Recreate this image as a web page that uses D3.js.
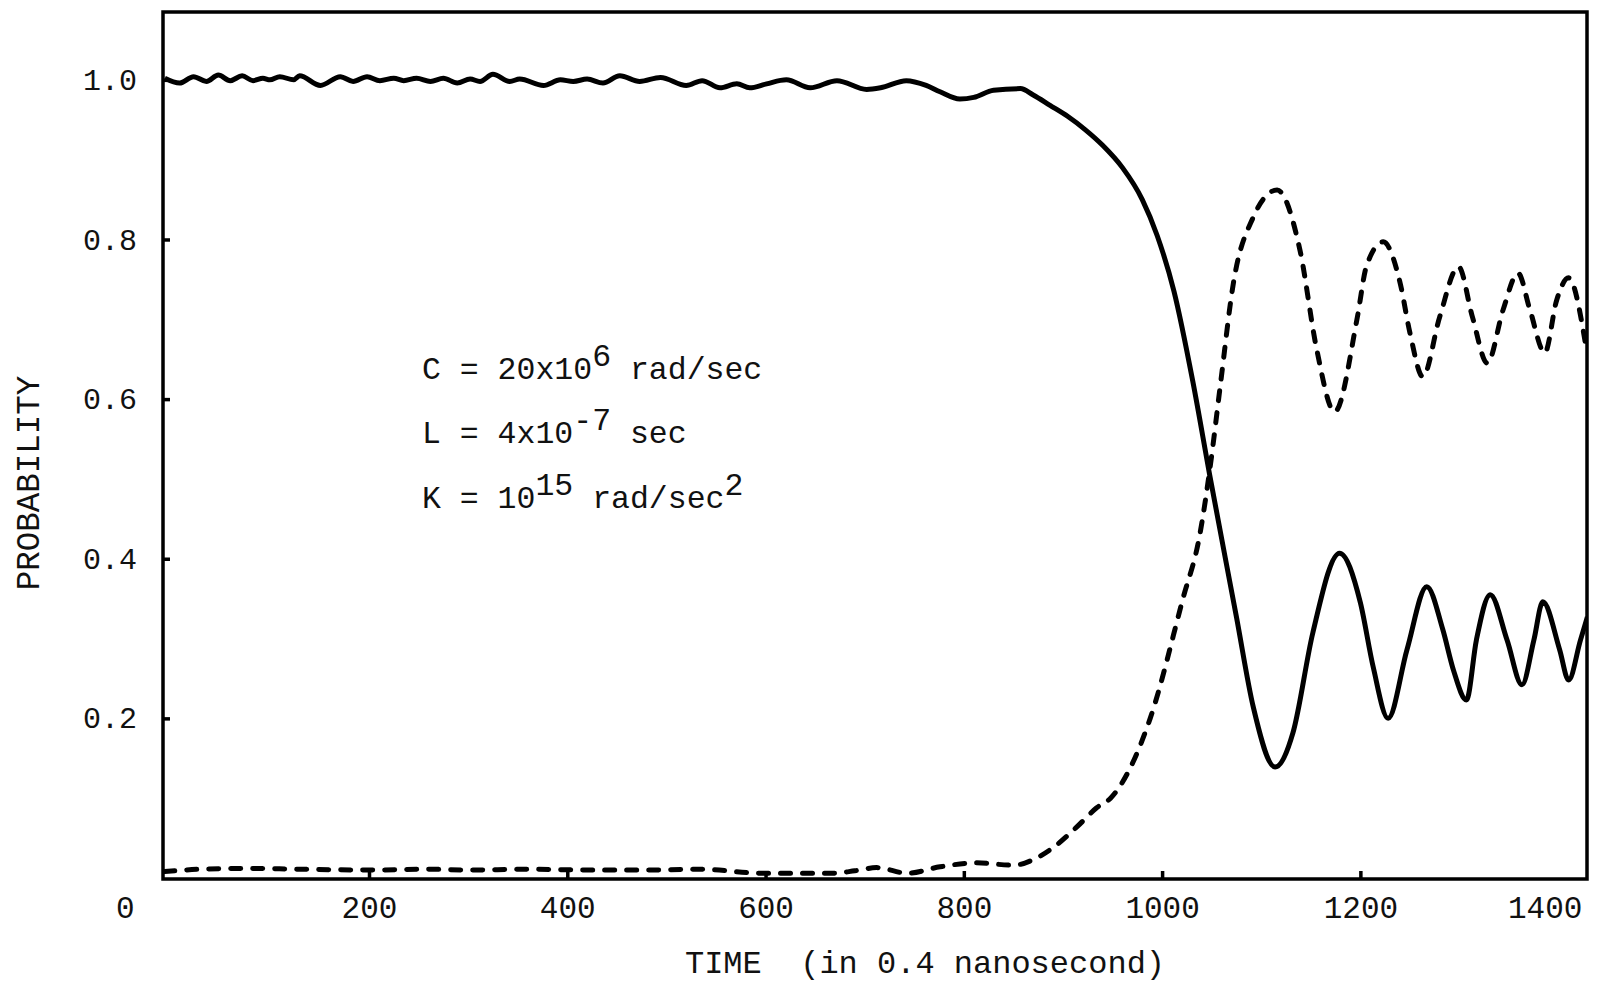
<!DOCTYPE html>
<html>
<head>
<meta charset="utf-8">
<script src="https://cdn.jsdelivr.net/npm/d3@7"></script>
<style>
  body { margin: 0; background: #fff; }
  text { font-family: "Liberation Mono", "Courier New", monospace; fill: #111; }
</style>
</head>
<body>
<svg id="chart" width="1597" height="983"></svg>
<script>
// solid curve (state 1)
var solidTime = [-6, 9, 23, 36, 48, 60, 72, 83, 93, 100, 110, 124, 130, 151, 171, 184, 198, 211, 225, 235,
  248, 262, 275, 289, 302, 312, 325, 342, 352, 376, 393, 406, 420, 436, 453, 473, 494,
  520, 536, 554, 571, 584, 601, 621, 645, 672, 702, 716, 742, 762, 776, 796, 810, 830, 857, 870, 887, 905,
  922, 940, 960, 980, 995, 1012, 1031, 1048, 1075, 1092, 1114, 1132, 1152, 1179, 1200, 1213, 1228, 1247, 1267,
  1283, 1294, 1307, 1317, 1331, 1348, 1363, 1375, 1384, 1401, 1410, 1422, 1429];
var solidProb = [1.002, 0.996, 1.004, 0.998, 1.006, 0.999, 1.005, 0.999, 1.002, 1.000, 1.004, 1.000, 1.005, 0.993, 1.004, 0.998, 1.004, 0.999, 1.002, 0.999,
  1.002, 0.998, 1.002, 0.996, 1.001, 0.998, 1.007, 0.998, 1.001, 0.993, 1.000, 0.998, 1.001, 0.996, 1.005, 0.998, 1.003,
  0.993, 0.999, 0.990, 0.995, 0.990, 0.995, 1.000, 0.990, 0.999, 0.988, 0.990, 0.999, 0.993, 0.985, 0.976, 0.978, 0.987, 0.989, 0.981, 0.968, 0.954,
  0.938, 0.918, 0.890, 0.850, 0.805, 0.735, 0.622, 0.505, 0.327, 0.214, 0.139, 0.182, 0.307, 0.407, 0.345, 0.264, 0.200, 0.286, 0.365,
  0.312, 0.260, 0.223, 0.298, 0.355, 0.298, 0.242, 0.298, 0.346, 0.286, 0.248, 0.298, 0.327];

// dashed curve (state 2)
var dashTime = [-6, 30, 80, 130, 200, 260, 300, 360, 420, 480, 534, 597, 668, 690, 712, 743, 776, 813, 850, 870,
  890, 914, 934, 948, 988, 1021, 1038, 1049, 1059, 1072, 1092, 1116, 1139, 1156, 1174, 1197, 1206, 1223,
  1240, 1250, 1263, 1280, 1299, 1313, 1328, 1344, 1359, 1371, 1386, 1398, 1410, 1427];
var dashProb = [0.008, 0.011, 0.012, 0.011, 0.010, 0.011, 0.010, 0.011, 0.010, 0.010, 0.011, 0.006, 0.006, 0.009, 0.013, 0.006, 0.014, 0.019, 0.016, 0.023,
  0.038, 0.064, 0.088, 0.100, 0.200, 0.350, 0.430, 0.520, 0.620, 0.746, 0.828, 0.862, 0.787, 0.662, 0.584, 0.703, 0.766, 0.797,
  0.746, 0.683, 0.628, 0.703, 0.766, 0.703, 0.645, 0.712, 0.758, 0.712, 0.658, 0.724, 0.752, 0.670];

var xTicks = [0, 200, 400, 600, 800, 1000, 1200, 1400];
var yTicks = [0.2, 0.4, 0.6, 0.8, 1.0];

(function () {
  var svg = d3.select("#chart"),
      pLeft = 163, pRight = 1587, pTop = 12, pBottom = 879;

  var x = d3.scaleLinear().domain([-7.8, 1428.6]).range([pLeft, pRight]),
      y = d3.scaleLinear().domain([0, 1.085]).range([878, pTop]);

  svg.append("defs").append("clipPath").attr("id", "plotClip")
    .append("rect")
      .attr("x", pLeft).attr("y", pTop)
      .attr("width", pRight - pLeft).attr("height", pBottom - pTop);

  // frame
  svg.append("rect")
      .attr("x", pLeft).attr("y", pTop)
      .attr("width", pRight - pLeft).attr("height", pBottom - pTop)
      .attr("fill", "none")
      .attr("stroke", "#000")
      .attr("stroke-width", 3.5);

  var xAxis = svg.append("g")
      .attr("transform", "translate(0," + pBottom + ")")
      .call(d3.axisBottom(x).tickValues(xTicks).tickSize(-8).tickPadding(17).tickFormat(d3.format("d")));

  var yAxis = svg.append("g")
      .attr("transform", "translate(" + pLeft + ",0)")
      .call(d3.axisLeft(y).tickValues(yTicks).tickSize(-7).tickPadding(26).tickFormat(d3.format(".1f")));

  [xAxis, yAxis].forEach(function(g) {
    g.select(".domain").remove();
    g.selectAll(".tick line").attr("stroke", "#000").attr("stroke-width", 3.5);
    g.selectAll(".tick text").attr("fill", "#111")
      .style("font-family", "'Liberation Mono', 'Courier New', monospace");
  });
  xAxis.selectAll(".tick text").attr("font-size", 31);
  yAxis.selectAll(".tick text").attr("font-size", 30);

  // the origin label sits left of the corner, 1400 is pulled in from the edge
  xAxis.selectAll(".tick").filter(function(d) { return d === 0 || d === 1400; }).select("line").remove();
  xAxis.selectAll(".tick text").attr("dx", function(d) { return d === 0 ? -46 : d === 1400 ? -14 : 0; });

  var solidData = solidTime.map(function(t, i) { return [t, solidProb[i]]; }),
      dashData = dashTime.map(function(t, i) { return [t, dashProb[i]]; });

  var line = d3.line()
      .x(function(d) { return x(d[0]); })
      .y(function(d) { return y(d[1]); })
      .curve(d3.curveMonotoneX);

  var plot = svg.append("g").attr("clip-path", "url(#plotClip)");

  plot.append("path")
      .datum(solidData)
      .attr("d", line)
      .attr("fill", "none")
      .attr("stroke", "#000")
      .attr("stroke-width", 5)
      .attr("stroke-linejoin", "round");

  plot.append("path")
      .datum(dashData)
      .attr("d", line)
      .attr("fill", "none")
      .attr("stroke", "#000")
      .attr("stroke-width", 5)
      .attr("stroke-linecap", "round")
      .attr("stroke-dasharray", "10,12");

  // axis titles
  svg.append("text")
      .attr("transform", "translate(28,483) rotate(-90)")
      .attr("text-anchor", "middle")
      .attr("dy", "0.35em")
      .attr("font-size", 32.5)
      .text("PROBABILITY");

  svg.append("text")
      .attr("x", 925).attr("y", 973)
      .attr("text-anchor", "middle")
      .attr("font-size", 32)
      .style("white-space", "pre")
      .text("TIME  (in 0.4 nanosecond)");

  // parameter block
  var notes = [
    [["C = 20x10", 0], ["6", 1], [" rad/sec", 0]],
    [["L = 4x10", 0], ["-7", 1], [" sec", 0]],
    [["K = 10", 0], ["15", 1], [" rad/sec", 0], ["2", 1]]
  ];
  var noteY = [379, 443, 508];

  notes.forEach(function(parts, i) {
    var t = svg.append("text")
        .attr("x", 422).attr("y", noteY[i])
        .attr("font-size", 31.5)
        .style("white-space", "pre");
    var prev = 0;
    parts.forEach(function(p) {
      t.append("tspan")
        .attr("dy", (prev - p[1]) * 13)
        .text(p[0]);
      prev = p[1];
    });
  });
})();
</script>
</body>
</html>
